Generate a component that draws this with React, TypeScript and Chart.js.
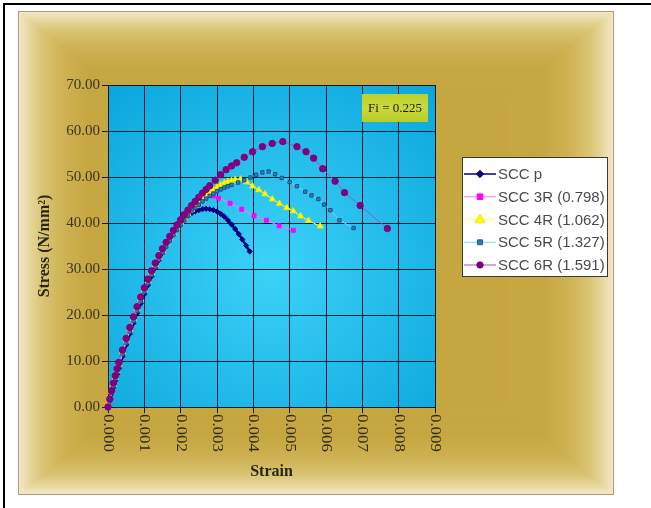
import React, { useEffect, useRef } from 'react';
import { Chart, registerables } from 'chart.js';

Chart.register(...registerables);

// ---------- DATA ----------
const seriesLabels = ['SCC p', 'SCC 3R (0.798)', 'SCC 4R (1.062)', 'SCC 5R (1.327)', 'SCC 6R (1.591)'];

const xTickMin = 0;
const xTickMax = 0.009;
const xTickStep = 0.001;
const yTickMin = 0;
const yTickMax = 70;
const yTickStep = 10;

const annotationText = 'Fi = 0.225';
const xTitle = 'Strain';
const yTitle = 'Stress (N/mm\u00B2)';

const pStrain = [0, 0.00005, 0.0001, 0.00015, 0.0002, 0.00025, 0.0003, 0.0004, 0.0005, 0.0006, 0.0007, 0.0008, 0.0009, 0.001, 0.0011, 0.0012, 0.0013, 0.0014, 0.0015, 0.0016, 0.0017, 0.0018, 0.0019, 0.002, 0.0021, 0.0022, 0.0023, 0.0024, 0.0025, 0.0026, 0.0027, 0.0028, 0.0029, 0.003, 0.0031, 0.0032, 0.0033, 0.0034, 0.0035, 0.0036, 0.0037, 0.0038, 0.0039];
const pStress = [0, 1.4, 2.9, 4.3, 5.7, 7.1, 8.4, 11.0, 13.5, 15.9, 18.2, 20.4, 22.5, 24.5, 26.5, 28.4, 30.2, 31.9, 33.5, 35.0, 36.4, 37.7, 38.9, 40.0, 40.9, 41.6, 42.1, 42.5, 42.8, 43.0, 43.1, 43.0, 42.8, 42.5, 42.0, 41.4, 40.6, 39.7, 38.7, 37.6, 36.4, 35.1, 33.8];

const r3Strain = [0, 0.00005, 0.0001, 0.00015, 0.0002, 0.00025, 0.0003, 0.0004, 0.0005, 0.0006, 0.0007, 0.0008, 0.0009, 0.001, 0.0011, 0.0012, 0.0013, 0.0014, 0.0015, 0.0016, 0.0017, 0.0018, 0.0019, 0.002, 0.0021, 0.0022, 0.0023, 0.0024, 0.0025, 0.0026, 0.0027, 0.0028, 0.0029, 0.00304, 0.00336, 0.00368, 0.00402, 0.00436, 0.00471, 0.0051];
const r3Stress = [0, 1.8, 3.6, 5.3, 6.9, 8.4, 9.8, 12.5, 15.0, 17.4, 19.7, 21.9, 24.0, 26.0, 27.9, 29.7, 31.4, 33.0, 34.5, 35.9, 37.2, 38.4, 39.5, 40.6, 41.6, 42.6, 43.5, 44.3, 45.0, 45.6, 46.0, 46.1, 45.9, 45.4, 44.3, 43.0, 41.6, 40.6, 39.4, 38.4];

const r4Strain = [0, 0.00005, 0.0001, 0.00015, 0.0002, 0.00025, 0.0003, 0.0004, 0.0005, 0.0006, 0.0007, 0.0008, 0.0009, 0.001, 0.0011, 0.0012, 0.0013, 0.0014, 0.0015, 0.0016, 0.0017, 0.0018, 0.0019, 0.002, 0.0021, 0.0022, 0.0023, 0.0024, 0.0025, 0.0026, 0.0027, 0.0028, 0.0029, 0.003, 0.0031, 0.0032, 0.0033, 0.0034, 0.0035, 0.00365, 0.00382, 0.00398, 0.00415, 0.00432, 0.00452, 0.00472, 0.00492, 0.0051, 0.0053, 0.00552, 0.00584];
const r4Stress = [0, 1.6, 3.3, 4.9, 6.4, 7.9, 9.3, 12.0, 14.5, 16.9, 19.2, 21.4, 23.5, 25.5, 27.4, 29.2, 30.9, 32.5, 34.0, 35.4, 36.7, 37.9, 39.0, 40.1, 41.1, 42.0, 42.9, 43.7, 44.5, 45.3, 46.0, 46.7, 47.3, 47.8, 48.3, 48.7, 49.0, 49.2, 49.4, 49.5, 48.9, 48.0, 47.2, 46.3, 45.2, 44.2, 43.3, 42.6, 41.5, 40.5, 39.3];

const r5Strain = [0, 0.00005, 0.0001, 0.00015, 0.0002, 0.00025, 0.0003, 0.0004, 0.0005, 0.0006, 0.0007, 0.0008, 0.0009, 0.001, 0.0011, 0.0012, 0.0013, 0.0014, 0.0015, 0.0016, 0.0017, 0.0018, 0.0019, 0.002, 0.0021, 0.0022, 0.0023, 0.0024, 0.0025, 0.0026, 0.0027, 0.0028, 0.0029, 0.003, 0.0031, 0.0032, 0.0033, 0.0034, 0.00358, 0.00375, 0.00392, 0.00408, 0.00425, 0.00442, 0.0046, 0.00478, 0.005, 0.0052, 0.00543, 0.0056, 0.00579, 0.00595, 0.00612, 0.00637, 0.00676];
const r5Stress = [0, 1.5, 3.1, 4.6, 6.1, 7.5, 8.9, 11.5, 14.0, 16.4, 18.7, 20.9, 23.0, 25.0, 26.9, 28.7, 30.4, 32.0, 33.5, 34.9, 36.2, 37.4, 38.5, 39.6, 40.6, 41.6, 42.5, 43.3, 44.0, 44.7, 45.3, 45.9, 46.4, 46.9, 47.3, 47.7, 48.0, 48.3, 48.8, 49.3, 49.9, 50.5, 51.0, 51.2, 50.6, 49.8, 48.9, 48.0, 46.8, 46.0, 45.2, 44.0, 42.8, 40.6, 38.9];

const r6Strain = [0, 0.00005, 0.0001, 0.00015, 0.0002, 0.00025, 0.0003, 0.0004, 0.0005, 0.0006, 0.0007, 0.0008, 0.0009, 0.001, 0.0011, 0.0012, 0.0013, 0.0014, 0.0015, 0.0016, 0.0017, 0.0018, 0.0019, 0.002, 0.0021, 0.0022, 0.0023, 0.0024, 0.0025, 0.0026, 0.0027, 0.0028, 0.00295, 0.0031, 0.00325, 0.0034, 0.00354, 0.00375, 0.00398, 0.00425, 0.00452, 0.00481, 0.0052, 0.00545, 0.00566, 0.00591, 0.00625, 0.00651, 0.00694, 0.00769];
const r6Stress = [0, 1.7, 3.5, 5.2, 6.8, 8.3, 9.7, 12.4, 14.9, 17.3, 19.6, 21.8, 23.9, 25.9, 27.8, 29.6, 31.3, 32.9, 34.4, 35.8, 37.1, 38.4, 39.6, 40.7, 41.8, 42.8, 43.8, 44.7, 45.6, 46.5, 47.3, 48.1, 49.3, 50.5, 51.6, 52.4, 53.1, 54.3, 55.5, 56.6, 57.3, 57.7, 56.6, 55.5, 54.1, 51.8, 49.1, 46.6, 43.8, 38.8];

// ---------- STYLES ----------
const lineColors = ['#000080', '#ff7aff', '#ffff70', '#70dcff', '#b04cc0'];
const markerFills = ['#000080', '#ff00ff', '#ffff00', '#2f80b8', '#800080'];
const markerStrokes = ['#000080', '#ff00ff', '#e8e800', '#1d4f88', '#800080'];
const markerStyles = ['rectRot', 'rect', 'triangle', 'rect', 'circle'];
const markerRadii = [2.6, 2.8, 3.6, 2.4, 3.2];
const lineWidths = [2.5, 1, 1, 1, 1];

const SERIF = '"Liberation Serif", "Times New Roman", serif';
const SANS = '"Liberation Sans", Arial, sans-serif';
const GRID = '#0b1a30';

function toPoints(xs: number[], ys: number[]) {
  return xs.map((x, i) => ({ x, y: ys[i] }));
}

const seriesData = [
  toPoints(pStrain, pStress),
  toPoints(r3Strain, r3Stress),
  toPoints(r4Strain, r4Stress),
  toPoints(r5Strain, r5Stress),
  toPoints(r6Strain, r6Stress),
];

function lerp(a: number[], b: number[], f: number) {
  return a.map((v, i) => Math.round(v + (b[i] - v) * f));
}

const frameStops: [number, number[]][] = [
  [1.0, [244, 232, 204]],
  [0.965, [232, 216, 160]],
  [0.92, [218, 196, 116]],
  [0.85, [206, 178, 84]],
  [0.76, [198, 167, 66]],
  [0.0, [196, 164, 62]],
];

function frameColor(t: number) {
  for (let i = 0; i < frameStops.length - 1; i++) {
    const [t0, c0] = frameStops[i];
    const [t1, c1] = frameStops[i + 1];
    if (t <= t0 && t >= t1) {
      const c = lerp(c0, c1, (t0 - t) / (t0 - t1));
      return `rgb(${c[0]},${c[1]},${c[2]})`;
    }
  }
  const c = frameStops[frameStops.length - 1][1];
  return `rgb(${c[0]},${c[1]},${c[2]})`;
}

function drawMarker(ctx: CanvasRenderingContext2D, style: string, x: number, y: number, r: number, fill: string, stroke: string) {
  ctx.beginPath();
  if (style === 'circle') {
    ctx.arc(x, y, r, 0, Math.PI * 2);
  } else if (style === 'rect') {
    ctx.rect(x - r, y - r, r * 2, r * 2);
  } else if (style === 'rectRot') {
    const d = r * 1.4;
    ctx.moveTo(x, y - d);
    ctx.lineTo(x + d, y);
    ctx.lineTo(x, y + d);
    ctx.lineTo(x - d, y);
    ctx.closePath();
  } else if (style === 'triangle') {
    const s = r * 1.5;
    ctx.moveTo(x, y - s);
    ctx.lineTo(x + s * 0.9, y + s * 0.6);
    ctx.lineTo(x - s * 0.9, y + s * 0.6);
    ctx.closePath();
  }
  ctx.fillStyle = fill;
  ctx.fill();
  ctx.strokeStyle = stroke;
  ctx.lineWidth = 1;
  ctx.stroke();
}

const backgroundPlugin = {
  id: 'bgPlugin',
  beforeDraw(chart: any) {
    const ctx: CanvasRenderingContext2D = chart.ctx;
    const W = chart.width;
    const H = chart.height;
    ctx.save();
    ctx.fillStyle = '#ffffff';
    ctx.fillRect(0, 0, W, H);
    // outer black lines (top/left)
    ctx.fillStyle = '#000000';
    ctx.fillRect(3, 3, W - 3, 2);
    ctx.fillRect(3, 3, 2, H - 3);
    // gold frame with rectangular gradient
    const fx0 = 18, fy0 = 11, fx1 = 614, fy1 = 495;
    const cx = (fx0 + fx1) / 2, cy = (fy0 + fy1) / 2;
    const hw = (fx1 - fx0) / 2, hh = (fy1 - fy0) / 2;
    for (let t = 1; t > 0.6; t -= 0.004) {
      ctx.fillStyle = frameColor(t);
      ctx.fillRect(cx - hw * t, cy - hh * t, hw * 2 * t, hh * 2 * t);
    }
    ctx.strokeStyle = '#b09a7a';
    ctx.lineWidth = 1;
    ctx.strokeRect(fx0 + 0.5, fy0 + 0.5, fx1 - fx0 - 1, fy1 - fy0 - 1);
    // plot area background
    const a = chart.chartArea;
    const g = ctx.createRadialGradient((a.left + a.right) / 2, (a.top + a.bottom) / 2 + 20, 10, (a.left + a.right) / 2, (a.top + a.bottom) / 2 + 20, 240);
    g.addColorStop(0, '#3ad0f8');
    g.addColorStop(1, '#0ca6dc');
    ctx.fillStyle = g;
    ctx.fillRect(a.left, a.top, a.right - a.left, a.bottom - a.top);
    ctx.restore();
  },
};

const overlayPlugin = {
  id: 'overlayPlugin',
  afterDraw(chart: any) {
    const ctx: CanvasRenderingContext2D = chart.ctx;
    const a = chart.chartArea;
    const xs = chart.scales.x;
    ctx.save();
    // x tick labels, rotated clockwise
    ctx.fillStyle = '#2e2a18';
    ctx.font = `15px ${SERIF}`;
    ctx.textAlign = 'left';
    ctx.textBaseline = 'middle';
    xs.ticks.forEach((tk: any) => {
      const px = xs.getPixelForValue(tk.value);
      ctx.save();
      ctx.translate(px, a.bottom + 7);
      ctx.rotate(Math.PI / 2);
      ctx.scale(1.12, 1);
      ctx.fillText(Number(tk.value).toFixed(3), 0, 0);
      ctx.restore();
    });

    // annotation box
    const bx = a.right - 73, by = a.top + 9, bw = 66, bh = 28;
    const bg = ctx.createLinearGradient(bx, by, bx, by + bh);
    bg.addColorStop(0, '#bcd02a');
    bg.addColorStop(0.5, '#cad83c');
    bg.addColorStop(1, '#b8cc26');
    ctx.fillStyle = bg;
    ctx.fillRect(bx, by, bw, bh);
    ctx.fillStyle = '#1a1a00';
    ctx.font = `13px ${SERIF}`;
    ctx.textAlign = 'center';
    ctx.textBaseline = 'middle';
    ctx.fillText(annotationText, bx + bw / 2, by + bh / 2 + 1);

    // legend
    const lx = 462, ly = 157, lw = 146, lh = 120;
    ctx.fillStyle = '#ffffff';
    ctx.fillRect(lx, ly, lw, lh);
    ctx.strokeStyle = '#3a3a3a';
    ctx.lineWidth = 1;
    ctx.strokeRect(lx + 0.5, ly + 0.5, lw - 1, lh - 1);
    const rowH = 22.75;
    seriesLabels.forEach((label, i) => {
      const y = ly + 17 + i * rowH;
      ctx.strokeStyle = lineColors[i];
      ctx.lineWidth = i === 0 ? 1.5 : 1;
      ctx.beginPath();
      ctx.moveTo(lx + 2, y);
      ctx.lineTo(lx + 34, y);
      ctx.stroke();
      drawMarker(ctx, markerStyles[i], lx + 18, y, markerRadii[i], markerFills[i], markerStrokes[i]);
      ctx.fillStyle = '#4a4a4a';
      ctx.font = `15px ${SANS}`;
      ctx.textAlign = 'left';
      ctx.textBaseline = 'middle';
      ctx.fillText(label, lx + 36, y + 1);
    });
    ctx.restore();
  },
};

export default function App() {
  const ref = useRef<HTMLCanvasElement>(null);
  useEffect(() => {
    const canvas = ref.current;
    if (!canvas) return;
    const datasets = seriesData.map((pts, i) => ({
      label: seriesLabels[i],
      data: pts,
      showLine: true,
      borderColor: lineColors[i],
      borderWidth: lineWidths[i],
      backgroundColor: markerFills[i],
      pointBackgroundColor: markerFills[i],
      pointBorderColor: markerStrokes[i],
      pointBorderWidth: 1,
      pointStyle: markerStyles[i] as any,
      pointRadius: markerRadii[i],
      tension: 0,
      clip: false as any,
      order: 5 - i,
    }));
    const chart = new Chart(canvas, {
      type: 'scatter',
      data: { datasets },
      options: {
        animation: false,
        responsive: false,
        devicePixelRatio: 1,
        layout: { padding: { left: 0, top: 85, right: 216, bottom: 0 } },
        plugins: {
          legend: { display: false },
          tooltip: { enabled: false },
        },
        scales: {
          x: {
            type: 'linear',
            min: xTickMin,
            max: xTickMax,
            afterFit: (s: any) => { s.height = 101; },
            ticks: { stepSize: xTickStep, display: false },
            grid: { color: GRID, lineWidth: 1, tickLength: 6, drawTicks: true },
            border: { color: GRID, width: 1 },
            title: {
              display: true,
              text: xTitle,
              color: '#2a2616',
              font: { family: SERIF, size: 16, weight: 'bold' },
              padding: { top: 0, bottom: 27 },
            },
          },
          y: {
            type: 'linear',
            min: yTickMin,
            max: yTickMax,
            afterFit: (s: any) => { s.width = 108; },
            ticks: {
              stepSize: yTickStep,
              padding: 2,
              color: '#3a3520',
              font: { family: SERIF, size: 15 },
              callback: (v: any) => Number(v).toFixed(2),
            },
            grid: { color: GRID, lineWidth: 1, tickLength: 6, drawTicks: true },
            border: { color: GRID, width: 1 },
            title: {
              display: true,
              text: yTitle,
              color: '#2a2616',
              font: { family: SERIF, size: 16, weight: 'bold' },
              padding: { top: 35, bottom: 0 },
            },
          },
        },
      },
      plugins: [backgroundPlugin, overlayPlugin],
    });
    return () => chart.destroy();
  }, []);
  return (
    <div style={{ position: 'fixed', left: 0, top: 0, width: 651, height: 508 }}>
      <canvas ref={ref} width={651} height={508} style={{ width: 651, height: 508, display: 'block' }} />
    </div>
  );
}
